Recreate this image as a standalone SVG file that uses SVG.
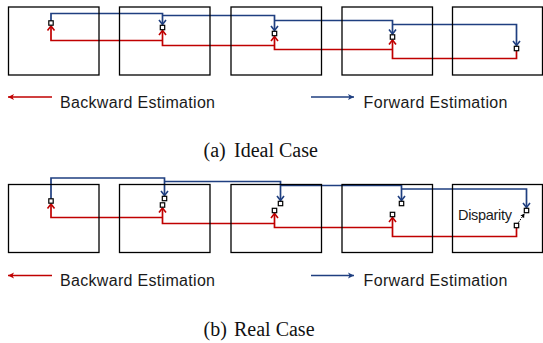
<svg xmlns="http://www.w3.org/2000/svg" width="543" height="343" viewBox="0 0 543 343">
<style>
.frame{fill:none;stroke:#000;stroke-width:1.3}
.sq{fill:#fff;stroke:#000;stroke-width:1.2}
.blue{fill:none;stroke:#1F3F80;stroke-width:1.7;marker-end:url(#ab)}
.red{fill:none;stroke:#C00000;stroke-width:1.7;marker-end:url(#ar)}
.lbl{font-family:"Liberation Sans",Arial,sans-serif;font-size:16px;fill:#1a1a1a}
.cap{font-family:"Liberation Serif","Times New Roman",serif;font-size:20px;fill:#111}
</style>
<defs>
<marker id="ab" markerUnits="userSpaceOnUse" markerWidth="10" markerHeight="10" refX="6" refY="5" orient="auto"><path d="M1.5,1.5 L6,5 L1.5,8.5" fill="none" stroke="#1F3F80" stroke-width="1.6" stroke-linejoin="round"/></marker>
<marker id="ar" markerUnits="userSpaceOnUse" markerWidth="10" markerHeight="10" refX="6" refY="5" orient="auto"><path d="M1.5,1.5 L6,5 L1.5,8.5" fill="none" stroke="#C00000" stroke-width="1.6" stroke-linejoin="round"/></marker>
<marker id="lb" markerUnits="userSpaceOnUse" markerWidth="10" markerHeight="10" refX="7" refY="5" orient="auto"><path d="M1,2 L7,5 L1,8 L2.5,5 Z" fill="#1F3F80"/></marker>
<marker id="lr" markerUnits="userSpaceOnUse" markerWidth="10" markerHeight="10" refX="7" refY="5" orient="auto"><path d="M1,2 L7,5 L1,8 L2.5,5 Z" fill="#C00000"/></marker>
<marker id="dk" markerUnits="userSpaceOnUse" markerWidth="6" markerHeight="6" refX="4" refY="3" orient="auto"><path d="M0,0.8 L4,3 L0,5.2 Z" fill="#000"/></marker>
</defs>

<g id="connectors">
<!-- ideal forward -->
<path class="blue" d="M51,21 V13.5 H162.5 V24.5"/>
<path class="blue" d="M162.5,15.5 H274.5 V30.5"/>
<path class="blue" d="M274.5,20.5 H392.5 V34"/>
<path class="blue" d="M392.5,24.5 H516.5 V45.5"/>
<!-- ideal backward -->
<path class="red" d="M516.5,50.5 V58.5 H392.5 V40"/>
<path class="red" d="M392.5,49.5 H274.5 V36.5"/>
<path class="red" d="M274.5,45.5 H162.5 V30.5"/>
<path class="red" d="M162.5,40.5 H51 V26"/>
<!-- real forward -->
<path class="blue" d="M51,199 V178 H164.5 V195.5"/>
<path class="blue" d="M164.5,181.5 H280.5 V200.5"/>
<path class="blue" d="M280.5,185.5 H401.5 V200.5"/>
<path class="blue" d="M401.5,189 H526.5 V207.5"/>
<!-- real backward -->
<path class="red" d="M516.5,227.5 V236.5 H392.5 V217.5"/>
<path class="red" d="M392.5,227.5 H274.5 V213.5"/>
<path class="red" d="M274.5,223.5 H162.5 V208"/>
<path class="red" d="M162.5,217.5 H51 V204"/>
<!-- disparity -->
<line x1="518.5" y1="222.5" x2="524.5" y2="213.5" stroke="#000" stroke-width="1" stroke-dasharray="1.5 1.2" marker-end="url(#dk)" marker-start="url(#dk)"/>
<!-- legends -->
<line x1="52" y1="97" x2="8" y2="97" stroke="#C00000" stroke-width="1.5" marker-end="url(#lr)"/>
<line x1="311" y1="97" x2="354" y2="97" stroke="#1F3F80" stroke-width="1.5" marker-end="url(#lb)"/>
<line x1="52" y1="275.5" x2="8" y2="275.5" stroke="#C00000" stroke-width="1.5" marker-end="url(#lr)"/>
<line x1="311" y1="275.5" x2="354" y2="275.5" stroke="#1F3F80" stroke-width="1.5" marker-end="url(#lb)"/>
</g>

<!-- (a) Ideal case -->
<g id="ideal-frame-1"><rect class="frame" x="8.5" y="7" width="90.5" height="68"/><rect class="sq" x="48.8" y="20.8" width="4.4" height="4.4"/></g>
<g id="ideal-frame-2"><rect class="frame" x="119.5" y="7" width="90.5" height="68"/><rect class="sq" x="160.3" y="25.3" width="4.4" height="4.4"/></g>
<g id="ideal-frame-3"><rect class="frame" x="231" y="7" width="90.5" height="68"/><rect class="sq" x="272.3" y="31.3" width="4.4" height="4.4"/></g>
<g id="ideal-frame-4"><rect class="frame" x="342" y="7" width="90.5" height="68"/><rect class="sq" x="390.3" y="34.8" width="4.4" height="4.4"/></g>
<g id="ideal-frame-5"><rect class="frame" x="452.5" y="7" width="90" height="68"/><rect class="sq" x="514.3" y="46.3" width="4.4" height="4.4"/></g>

<!-- (b) Real case -->
<g id="real-frame-1"><rect class="frame" x="8.5" y="184.5" width="90.5" height="68"/><rect class="sq" x="48.8" y="198.8" width="4.4" height="4.4"/></g>
<g id="real-frame-2"><rect class="frame" x="119.5" y="184.5" width="90.5" height="68"/><rect class="sq" x="162.3" y="196.3" width="4.4" height="4.4"/><rect class="sq" x="160.3" y="202.8" width="4.4" height="4.4"/></g>
<g id="real-frame-3"><rect class="frame" x="231" y="184.5" width="90.5" height="68"/><rect class="sq" x="278.3" y="201.3" width="4.4" height="4.4"/><rect class="sq" x="272.3" y="208.3" width="4.4" height="4.4"/></g>
<g id="real-frame-4"><rect class="frame" x="342" y="184.5" width="90.5" height="68"/><rect class="sq" x="399.3" y="201.3" width="4.4" height="4.4"/><rect class="sq" x="390.3" y="212.3" width="4.4" height="4.4"/></g>
<g id="real-frame-5"><rect class="frame" x="452.5" y="184.5" width="90" height="68"/><rect class="sq" x="524.3" y="208.3" width="4.4" height="4.4"/><rect class="sq" x="514.3" y="223.3" width="4.4" height="4.4"/>
<text class="lbl" x="458" y="220" style="font-size:14.5px" textLength="54">Disparity</text></g>

<g id="legend-text">
<text class="lbl" x="60" y="107.5" textLength="155">Backward Estimation</text>
<text class="lbl" x="363.5" y="107.5" textLength="144">Forward Estimation</text>
<text class="lbl" x="60" y="286" textLength="155">Backward Estimation</text>
<text class="lbl" x="363.5" y="286" textLength="144">Forward Estimation</text>
</g>
<g id="captions">
<text class="cap" x="203.5" y="156.5">(a)<tspan x="234">Ideal Case</tspan></text>
<text class="cap" x="203.5" y="335.5">(b)<tspan x="234">Real Case</tspan></text>
</g>
</svg>
